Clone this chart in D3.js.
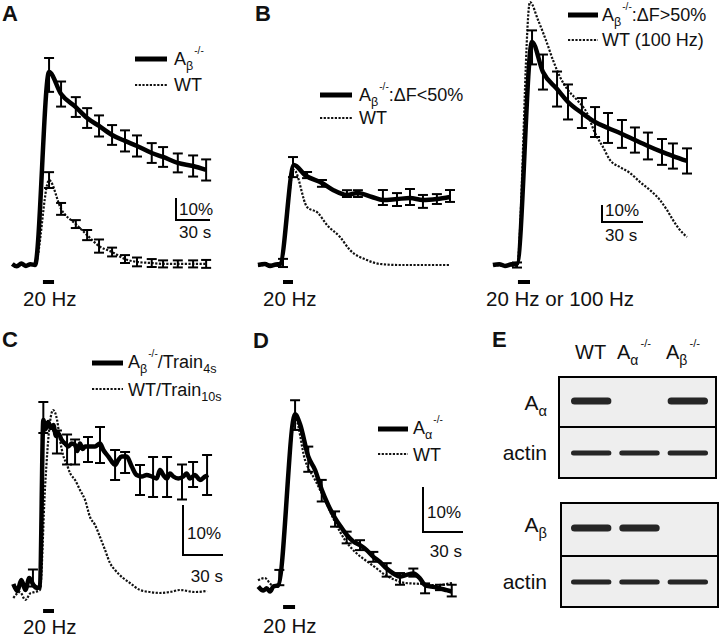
<!DOCTYPE html>
<html><head><meta charset="utf-8">
<script src="https://cdn.jsdelivr.net/npm/d3@7"></script>
<style>
body{margin:0;background:#fff}
svg{display:block}
text{font-family:"Liberation Sans",Arial,Helvetica,sans-serif;fill:#111}
</style></head><body><svg id="fig" width="720" height="637"></svg>
<script>
// ---------- DATA (time in s, ΔF in %) ----------
// Panel A
const aTime = [-20, -16, -12, -8, -4, 0, 12.4, 23, 36, 46, 56.5, 68, 79.4, 90, 103, 113, 126, 139.5, 151];
const aKO   = [0.5, -0.6, 0.7, -0.4, 0.3, 0, 87.7, 77.7, 71.8, 66.8, 63.2, 59.1, 56.4, 54.1, 50.9, 49.1, 46.4, 45, 43.2];
const aWT   = [0.3, -0.5, 0.5, -0.2, 0.4, 0, 38.6, 25.5, 18.6, 13.6, 8.6, 5.9, 2.7, 1.4, 0.9, 0.5, 0.5, 0.5, 0.5];
const aErrTime  = [12.4, 23, 36, 46, 56.5, 68, 79.4, 90, 103, 113, 126, 139.5, 151];
const aErrKO    = [86.4, 77.7, 71.8, 66.8, 63.2, 59.1, 56.4, 54.1, 50.9, 49.1, 46.4, 45, 43.2];
const aSemKO    = [7.7, 5.7, 4.5, 4.5, 4.8, 4.5, 4.8, 4.8, 4.5, 4.5, 4.3, 4.8, 4.8];
const aErrWT    = [38.6, 25.5, 18.6, 13.6, 8.6, 5.9, 2.7, 1.4, 0.9, 0.5, 0.5, 0.5, 0.5];
const aSemWT    = [3.6, 2.7, 1.8, 2.3, 3, 2, 1.8, 2, 1.8, 1.6, 1.6, 1.6, 1.8];
const aStim = [7, 16.8];

// Panel B (left, ΔF<50%)
const bTime = [-16.1, -11, -7.3, -3, 0, 10.2, 18.3, 30.7, 38.8, 49, 57, 67.3, 75.3, 85.6, 95.1, 104.6, 114.8, 124.4];
const bKO   = [0, 0.6, -0.6, 0.3, 0.6, 58.8, 52.9, 48.2, 44.1, 41.2, 42.4, 40, 38.2, 38.8, 39.4, 38.2, 38.8, 40];
const bErrTime = [2.2, 9.5, 19.8, 30.7, 49, 57, 75.3, 85.6, 95.1, 104.6, 114.8, 124.4];
const bErrKO   = [1.2, 57.6, 52.9, 48, 42, 42, 39.7, 38.5, 40, 37.4, 38.8, 40.6];
const bSemKO   = [2.4, 5.9, 1.8, 2, 2, 2, 4.4, 3.8, 4.7, 3.8, 2.9, 3.5];
const bWTTime = [-16.1, -8, 0, 10.2, 19.8, 27.8, 34.4, 43.9, 51.2, 63.6, 73.2, 87.8, 102.4, 124.4];
const bWT     = [-0.6, 0.3, -0.6, 56, 34.1, 30.6, 23.5, 16.5, 8.8, 2.9, 0.6, 0, 0, 0];
const bStim = [2.2, 9.5];

// Panel B (right, ΔF>50% and WT 100 Hz)
const b2Time = [-17.6, -13, -8.8, -4, 0, 11, 19, 29.3, 37.3, 47.5, 57.1, 66.6, 76.8, 86.3, 95.8, 106.1, 114.1, 124.4];
const b2KO   = [0, 0.5, -0.6, 0.4, 0.6, 131.2, 113.5, 103.5, 95.9, 89.4, 84.1, 80.6, 77.1, 73.5, 70, 66.5, 64.1, 61.2];
const b2ErrTime = [0, 11, 19, 29.3, 37.3, 47.5, 57.1, 66.6, 76.8, 86.3, 95.8, 106.1, 114.1, 124.4];
const b2ErrKO   = [0, 128, 113.5, 103.5, 95.9, 89.4, 84.1, 80.6, 77.1, 73.5, 70, 66.5, 64.1, 61.2];
const b2SemKO   = [1.5, 10, 10.3, 10.3, 10.3, 8.8, 8.8, 8.8, 8.2, 7.4, 7.9, 7.6, 7.4, 7.4];
const b2WTTime = [-17.6, 0, 9.5, 15.4, 21.9, 26.3, 31.5, 37.3, 43.9, 51.2, 57.1, 62.9, 68, 75.3, 82.7, 90, 97.3, 104.6, 109.7, 114.1, 119.2, 124.4];
const b2WT     = [0, -0.6, 154.7, 144.1, 130.6, 120.6, 110.6, 102.9, 97.1, 89.4, 77.6, 69.4, 61.8, 57.6, 54.1, 48.8, 44.1, 38.2, 32.4, 26.5, 20.6, 16.5];
const b2Stim = [0.7, 9.5];

// Panel C (Train4s vs Train10s)
const cTime = [-20, -17, -14, -11, -8, -5, -2, 0, 2.5, 4, 6.2, 8, 10, 12, 13.7, 16.3, 18.7, 21.2, 23.8, 26.3, 28, 30, 32, 33.8, 37.5, 41.3, 45, 47.5, 51.2, 53.8, 56.3, 58.7, 61.3, 65, 68.8, 72.5, 76.3, 80, 83.8, 87.5, 90, 92.5, 95, 97.5, 100, 103.7, 107.5, 110, 112.5, 116.3, 120, 123.8, 126.2];
const cKO   = [0.6, -0.8, 1.4, -0.6, 1.8, 0.4, -0.2, 0, 33.4, 31.5, 33, 31.8, 32.4, 30.2, 30.7, 29.4, 28.7, 28.1, 28.7, 28.4, 27.2, 28.7, 27.6, 28.1, 28.1, 28.1, 28.7, 27.4, 26.1, 25.1, 24.4, 25.4, 26.1, 26.1, 24.1, 22.4, 22.1, 22.4, 22.1, 21.7, 23.4, 22.4, 21.7, 22.7, 22.1, 21.7, 22.1, 22.7, 21.7, 22.4, 21.4, 22.1, 22.4];
const cErrTime = [-5.3, 2.5, 12.7, 20.3, 26.3, 36, 45, 56.3, 63.8, 75, 84.8, 95.3, 106.5, 114.8, 125.3];
const cErrKO   = [1.8, 33.9, 29, 27.5, 27, 27.5, 28.4, 24.4, 24.9, 21.4, 22, 22, 21, 22.5, 22.4];
const cSemKO   = [1.7, 3.1, 2.3, 3, 2.5, 2.5, 3.6, 3, 2.1, 3, 4, 4, 3.5, 2.5, 4];
const cWTTime = [-20, -15, -11, -7, -3.8, 0, 3.8, 7.5, 9.8, 12.8, 15, 17.3, 20.3, 22.5, 26.3, 30, 33.8, 37.5, 41.3, 45, 48.8, 52.5, 56.3, 62.3, 67.5, 75, 82.5, 90, 97.5, 105, 116.3, 125.3];
const cWT     = [-2.2, -1, -2.6, -1.2, -1, -0.6, 20, 33, 35.4, 33.4, 29.4, 26.4, 24.4, 22.8, 21.4, 19.4, 17.4, 14, 12.4, 10, 7.4, 4.8, 3.4, 1.8, 0.8, -0.6, -1, -1.2, -1, -0.6, -1, -0.8];
const cStim = [2.3, 10.5];

// Panel D (Aα-/- vs WT)
const dTime = [-14.8, -11, -8.5, -6, -3.5, 0.2, 12.8, 16.5, 22.7, 27.8, 32.8, 37.7, 42.8, 47.8, 51.5, 56.5, 61.5, 66.5, 71.5, 76.3, 81.5, 86.5, 91.5, 96.5, 101.5, 106.5, 110.3, 115.3, 121.5, 126.5, 130.3];
const dKO   = [0.1, -0.8, -0.3, -1, 0.1, 0.4, 38.4, 36.2, 29, 26, 21.6, 18.2, 15.3, 13.1, 11.6, 10.1, 9.3, 8.2, 6.7, 5.6, 4.1, 3, 2.3, 2.7, 3, 1.9, 0.4, 0.1, -0.3, -0.7, -1.0];
const dErrTime = [1, 12.8, 22.7, 32.8, 42.8, 51.5, 61.5, 71.5, 81.5, 91.5, 101.5, 110.3, 121.5, 130.3];
const dErrKO   = [2.1, 38.2, 28.4, 21.4, 15.1, 11, 9.3, 6.7, 3.8, 1.8, 3.2, -0.3, -0.1, -0.8];
const dSemKO   = [1.7, 3.3, 2.8, 2.4, 1.7, 1.3, 1.1, 1.1, 1.5, 1.3, 0.9, 1.1, 0.6, 1.3];
const dWTTime = [-15, -10, -5, 0, 12.8, 20.3, 27.8, 35.3, 42.8, 50.3, 57.8, 65.3, 72.8, 80.3, 87.8, 95.3, 106.5, 117.8, 130.5];
const dWT     = [1.5, 2, 0.5, 0, 37.6, 28.2, 23.8, 19.3, 14.4, 10.4, 7.8, 6, 4.4, 2.7, 1.6, 0.9, 0.7, 0.4, 0.9];
const dStim = [3.8, 12.8];

// Panel E (Western blots)
const lanes = ["WT", "Aα-/-", "Aβ-/-"];
const blotAalpha = [1, 0, 1];
const blotActin1 = [1, 1, 1];
const blotAbeta  = [1, 1, 0];
const blotActin2 = [1, 1, 1];

// ---------- DRAWING ----------
const svg = d3.select('#fig');

function rich(g, x, y, parts, size, anchor) {
  const t = g.append('text').attr('x', x).attr('y', y).style('font-size', size + 'px');
  if (anchor) t.attr('text-anchor', anchor);
  let cur = 0;
  parts.forEach(p => {
    let off = 0, fs = size;
    if (p.sub) { off = size * 0.28; fs = size * 0.7; }
    if (p.sup) { off = -size * 0.62; fs = size * 0.56; }
    const ts = t.append('tspan').attr('dy', off - cur).style('font-size', fs + 'px').text(p.t);
    if (p.dx) ts.attr('dx', p.dx);
    cur = off;
  });
  return t;
}

const SOLID_W = 4.5;
const DOT = {w: 2.2, dash: '2.2,1.5', color: '#111'};
const STIM_FS = 20.5, LEG_FS = 18, SB_FS = 17;

function drawPanel(cfg) {
  const g = svg.append('g');
  const x = d3.scaleLinear().domain([0, 30]).range([cfg.x0, cfg.x0 + cfg.px30]);
  const y = d3.scaleLinear().domain([0, 10]).range([cfg.y0, cfg.y0 - cfg.px10]);
  const line = d3.line().x(d => x(d[0])).y(d => y(d[1])).curve(d3.curveMonotoneX);

  // WT dotted trace
  const wt = d3.zip(cfg.wtTime, cfg.wt);
  g.append('path').attr('d', line(wt)).attr('fill', 'none')
    .attr('stroke', DOT.color).attr('stroke-width', DOT.w).attr('stroke-dasharray', DOT.dash);
  // KO solid trace
  const ko = d3.zip(cfg.koTime, cfg.ko);
  g.append('path').attr('d', line(ko)).attr('fill', 'none')
    .attr('stroke', '#000').attr('stroke-width', SOLID_W).attr('stroke-linejoin', 'round');

  // error bars
  const drawErr = (times, mean, sem) => {
    const eb = g.append('g').attr('stroke', '#000').attr('stroke-width', 2);
    times.forEach((t, i) => {
      const cx = x(t), y1 = y(mean[i] + sem[i]), y2 = y(mean[i] - sem[i]);
      eb.append('line').attr('x1', cx).attr('x2', cx).attr('y1', y1).attr('y2', y2);
      eb.append('line').attr('x1', cx - 5).attr('x2', cx + 5).attr('y1', y1).attr('y2', y1);
      eb.append('line').attr('x1', cx - 5).attr('x2', cx + 5).attr('y1', y2).attr('y2', y2);
    });
  };
  if (cfg.errWT) drawErr(cfg.errWT.time, cfg.errWT.mean, cfg.errWT.sem);
  drawErr(cfg.err.time, cfg.err.mean, cfg.err.sem);

  // stimulus bar
  g.append('line').attr('x1', x(cfg.stim[0])).attr('x2', x(cfg.stim[1]))
    .attr('y1', cfg.stimY).attr('y2', cfg.stimY).attr('stroke', '#000').attr('stroke-width', 4);
  g.append('text').attr('x', cfg.stimLabelX).attr('y', cfg.stimLabelY)
    .style('font-size', STIM_FS + 'px').text(cfg.stimLabel);

  // scale bar
  if (cfg.sb) {
    const sb = cfg.sb;
    const h = y(0) - y(10), w = x(30) - x(0);
    g.append('path').attr('d', `M${sb.x},${sb.y - h}V${sb.y}H${sb.x + w}`)
      .attr('fill', 'none').attr('stroke', '#000').attr('stroke-width', 2);
    g.append('text').attr('x', sb.pctX).attr('y', sb.pctY).style('font-size', SB_FS + 'px').text('10%');
    g.append('text').attr('x', sb.sX).attr('y', sb.sY).attr('text-anchor', sb.sAnchor || 'start')
      .style('font-size', SB_FS + 'px').text('30 s');
  }

  // legend
  const L = cfg.legend;
  g.append('line').attr('x1', L.x1).attr('x2', L.x2).attr('y1', L.y1).attr('y2', L.y1)
    .attr('stroke', '#000').attr('stroke-width', 5);
  g.append('line').attr('x1', L.x1).attr('x2', L.x2).attr('y1', L.y2).attr('y2', L.y2)
    .attr('stroke', DOT.color).attr('stroke-width', DOT.w).attr('stroke-dasharray', DOT.dash);
  rich(g, L.tx, L.ty1, L.t1, LEG_FS);
  rich(g, L.tx, L.ty2, L.t2, LEG_FS);

  // panel label
  if (cfg.label) {
    g.append('text').attr('x', cfg.label[1]).attr('y', cfg.label[2])
      .style('font-size', '22px').style('font-weight', 'bold').text(cfg.label[0]);
  }
}

const KOb = [{t: 'A'}, {t: 'β', sub: true}, {t: '-/-', sup: true, dx: 1}];
const KOa = [{t: 'A'}, {t: 'α', sub: true}, {t: '-/-', sup: true, dx: 1}];

drawPanel({
  x0: 35, px30: 34, y0: 265, px10: 22,
  koTime: aTime, ko: aKO, wtTime: aTime, wt: aWT,
  err: {time: aErrTime, mean: aErrKO, sem: aSemKO},
  errWT: {time: aErrTime, mean: aErrWT, sem: aSemWT},
  stim: aStim, stimY: 282, stimLabel: '20 Hz', stimLabelX: 23, stimLabelY: 306,
  sb: {x: 176, y: 220, pctX: 179, pctY: 215, sX: 179, sY: 238},
  legend: {x1: 135, x2: 167, y1: 59, y2: 85, tx: 174, ty1: 65, ty2: 91, t1: KOb, t2: [{t: 'WT'}]},
  label: ['A', 2, 21]
});
drawPanel({
  x0: 280, px30: 41, y0: 265, px10: 17,
  koTime: bTime, ko: bKO, wtTime: bWTTime, wt: bWT,
  err: {time: bErrTime, mean: bErrKO, sem: bSemKO},
  stim: bStim, stimY: 282, stimLabel: '20 Hz', stimLabelX: 263, stimLabelY: 306,
  legend: {x1: 320, x2: 352, y1: 95, y2: 118, tx: 359, ty1: 101, ty2: 124,
    t1: KOb.concat([{t: ':ΔF<50%'}]), t2: [{t: 'WT'}]},
  label: ['B', 255, 21]
});
drawPanel({
  x0: 517, px30: 41, y0: 265, px10: 17,
  koTime: b2Time, ko: b2KO, wtTime: b2WTTime, wt: b2WT,
  err: {time: b2ErrTime, mean: b2ErrKO, sem: b2SemKO},
  stim: b2Stim, stimY: 282, stimLabel: '20 Hz or 100 Hz', stimLabelX: 486, stimLabelY: 306,
  sb: {x: 602, y: 222, pctX: 605, pctY: 216, sX: 605, sY: 241},
  legend: {x1: 568, x2: 598, y1: 15, y2: 40, tx: 602, ty1: 21, ty2: 46,
    t1: KOb.concat([{t: ':ΔF>50%'}]), t2: [{t: 'WT (100 Hz)'}]}
});
drawPanel({
  x0: 40, px30: 40, y0: 587, px10: 50,
  koTime: cTime, ko: cKO, wtTime: cWTTime, wt: cWT,
  err: {time: cErrTime, mean: cErrKO, sem: cSemKO},
  stim: cStim, stimY: 611, stimLabel: '20 Hz', stimLabelX: 23, stimLabelY: 634,
  sb: {x: 183, y: 555, pctX: 187, pctY: 539, sX: 223, sY: 582, sAnchor: 'end'},
  legend: {x1: 92, x2: 123, y1: 363, y2: 389, tx: 128, ty1: 368, ty2: 396,
    t1: KOb.concat([{t: '/Train'}, {t: '4s', sub: true}]), t2: [{t: 'WT/Train'}, {t: '10s', sub: true}]},
  label: ['C', 2, 347]
});
drawPanel({
  x0: 278, px30: 40, y0: 587, px10: 45,
  koTime: dTime, ko: dKO, wtTime: dWTTime, wt: dWT,
  err: {time: dErrTime, mean: dErrKO, sem: dSemKO},
  stim: dStim, stimY: 607, stimLabel: '20 Hz', stimLabelX: 263, stimLabelY: 633,
  sb: {x: 423, y: 532, pctX: 427, pctY: 518, sX: 462, sY: 557, sAnchor: 'end'},
  legend: {x1: 378, x2: 408, y1: 429, y2: 454, tx: 413, ty1: 434, ty2: 461, t1: KOa, t2: [{t: 'WT'}]},
  label: ['D', 253, 348]
});

// ---------- Panel E ----------
const gE = svg.append('g');
const defs = svg.append('defs');
defs.append('filter').attr('id', 'blur').append('feGaussianBlur').attr('stdDeviation', 0.7);
gE.append('text').attr('x', 492).attr('y', 347).style('font-size', '22px').style('font-weight', 'bold').text('E');

const laneX = d3.scaleBand().domain(lanes).range([568, 711]).paddingInner(0.04);
const headerParts = [
  [{t: 'WT'}],
  [{t: 'A'}, {t: 'α', sub: true}, {t: '-/-', sup: true, dx: 2}],
  [{t: 'A'}, {t: 'β', sub: true}, {t: '-/-', sup: true, dx: 2}]
];
const headerX = [575, 617, 666];
headerParts.forEach((p, i) => rich(gE, headerX[i], 359, p, 20));

function blot(box, rows) {
  gE.append('rect').attr('x', box.x).attr('y', box.y).attr('width', box.w).attr('height', box.h)
    .attr('fill', '#eeeeee').attr('stroke', '#000').attr('stroke-width', 2);
  gE.append('line').attr('x1', box.x).attr('x2', box.x + box.w)
    .attr('y1', box.y + box.div).attr('y2', box.y + box.div).attr('stroke', '#000').attr('stroke-width', 2);
  rows.forEach(r => {
    lanes.forEach((ln, i) => {
      if (!r.data[i]) return;
      gE.append('rect').attr('x', laneX(ln) + 3).attr('y', r.y - r.h / 2)
        .attr('width', laneX.bandwidth() - 6).attr('height', r.h).attr('rx', r.h / 2)
        .attr('fill', '#262626').attr('filter', 'url(#blur)');
    });
    rich(gE, 547, r.ly, r.label, 21, 'end');
  });
}
blot({x: 559, y: 377, w: 157, h: 101, div: 50}, [
  {data: blotAalpha, y: 401, h: 7, ly: 410, label: [{t: 'A'}, {t: 'α', sub: true}]},
  {data: blotActin1, y: 453, h: 5, ly: 460, label: [{t: 'actin'}]}
]);
blot({x: 561, y: 503, w: 157, h: 104, div: 53}, [
  {data: blotAbeta, y: 528, h: 7, ly: 532, label: [{t: 'A'}, {t: 'β', sub: true}]},
  {data: blotActin2, y: 582, h: 5, ly: 589, label: [{t: 'actin'}]}
]);
</script></body></html>
